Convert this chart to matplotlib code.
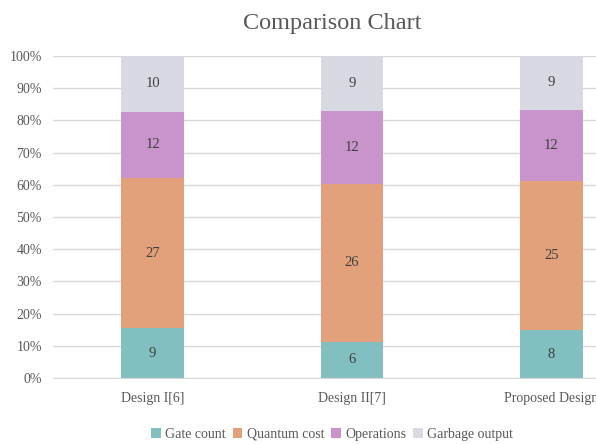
import numpy as np
import matplotlib.pyplot as plt

plt.rcParams['font.family'] = ['Liberation Serif', 'DejaVu Serif']

categories = ["Design I[6]", "Design II[7]", "Proposed Design"]
series = ["Gate count", "Quantum cost", "Operations", "Garbage output"]
gate_count = [9, 6, 8]
quantum_cost = [27, 26, 25]
operations = [12, 12, 12]
garbage_output = [10, 9, 9]
colors = ["#82bfc0", "#e3a17b", "#c993cb", "#d9d9e3"]

values = np.array([gate_count, quantum_cost, operations, garbage_output], dtype=float)
totals = values.sum(axis=0)
pct = values / totals * 100

fig = plt.figure(figsize=(5.96, 4.44), dpi=100)
ax = fig.add_axes([53 / 596, 1 - 378 / 444, 598 / 596, 322 / 444])

x = np.arange(len(categories))
bottom = np.zeros(len(categories))
for i, name in enumerate(series):
    ax.bar(x, pct[i], 0.316, bottom=bottom, color=colors[i], label=name, zorder=2)
    for j in range(len(categories)):
        ax.text(x[j], bottom[j] + pct[i][j] / 2, "%d" % values[i][j],
                ha="center", va="center", fontsize=10.5, color="#404040", zorder=3)
    bottom += pct[i]

ax.set_xlim(-0.5, 2.5)
ax.set_ylim(0, 100)
ax.set_yticks(np.arange(0, 101, 10))
ax.set_yticklabels(["%d%%" % v for v in range(0, 101, 10)])
ax.set_xticks(x)
ax.set_xticklabels(categories)
ax.tick_params(axis="both", length=0, labelsize=10, colors="#595959")
ax.tick_params(axis="x", pad=10)
ax.tick_params(axis="y", pad=8)
ax.yaxis.grid(True, color="#d9d9d9", linewidth=1, zorder=0)
for s in ["top", "right", "left"]:
    ax.spines[s].set_visible(False)
ax.spines["bottom"].set_color("#d9d9d9")

fig.text(332 / 596, 1 - 23 / 444, "Comparison Chart", ha="center", va="center",
         fontsize=17.5, color="#595959")
fig.legend(loc="center", bbox_to_anchor=(332 / 596, 1 - 434 / 444), ncol=4,
           frameon=False, fontsize=10, handlelength=0.7, handleheight=0.7,
           handletextpad=0.3, columnspacing=0.5, labelcolor="#595959")

fig.savefig("out.png", dpi=100)
